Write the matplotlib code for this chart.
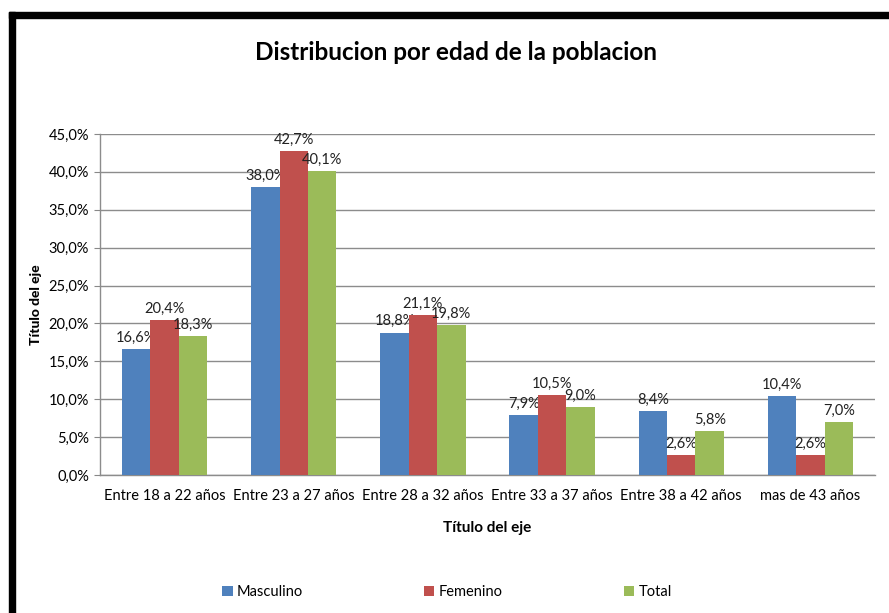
import matplotlib
matplotlib.use("Agg")
import matplotlib.pyplot as plt
import numpy as np
from matplotlib.patches import Rectangle

categories = ["Entre 18 a 22 años", "Entre 23 a 27 años", "Entre 28 a 32 años",
              "Entre 33 a 37 años", "Entre 38 a 42 años", "mas de 43 años"]
masculino = [16.6, 38.0, 18.8, 7.9, 8.4, 10.4]
femenino = [20.4, 42.7, 21.1, 10.5, 2.6, 2.6]
total = [18.3, 40.1, 19.8, 9.0, 5.8, 7.0]
series_names = ["Masculino", "Femenino", "Total"]
colors = ["#4F81BD", "#C0504D", "#9BBB59"]

plt.rcParams['font.family'] = ['Lato', 'DejaVu Sans']

fig = plt.figure(figsize=(8.89, 6.13), dpi=100)
ax = fig.add_axes([100/889, 1-475/613, 775/889, 341/613])

x = np.arange(len(categories))
w = 0.22
handles = []
for i, (vals, name, c) in enumerate(zip([masculino, femenino, total], series_names, colors)):
    b = ax.bar(x + (i-1)*w, vals, width=w, color=c, label=name, zorder=3)
    handles.append(b)
    ax.bar_label(b, labels=[f"{v:.1f}%".replace('.', ',') for v in vals],
                 padding=3, fontsize=10.5, color="#222222")

ax.set_xlim(-0.5, len(categories)-0.5)
ax.set_ylim(0, 45)
yt = np.arange(0, 46, 5)
ax.set_yticks(yt)
ax.set_yticklabels([f"{v:.1f}%".replace('.', ',') for v in yt], fontsize=10.5)
ax.set_xticks(x)
ax.set_xticklabels(categories, fontsize=10.5)
ax.tick_params(axis='x', length=0, pad=10)
ax.tick_params(axis='y', length=4, color="#888888", pad=4)
ax.grid(axis='y', color="#8c8c8c", linewidth=1, zorder=0)
for s in ["top", "right"]:
    ax.spines[s].set_visible(False)
for s in ["left", "bottom"]:
    ax.spines[s].set_color("#8c8c8c")
    ax.spines[s].set_linewidth(1)

ax.set_xlabel("Título del eje", fontsize=11, fontweight="bold", labelpad=13)
ax.set_ylabel("Título del eje", fontsize=10, fontweight="black")
ax.yaxis.set_label_coords(-(100-42)/775, 0.5)

fig.text(456/889, 1-52/613, "Distribucion por edad de la poblacion",
         ha="center", va="center", fontsize=17.5, fontweight="bold")

fig.legend(handles=handles, labels=series_names, loc="center",
           bbox_to_anchor=(447/889, 1-592/613), ncol=3, frameon=False,
           fontsize=10.5, handlelength=0.7, handleheight=0.7, handletextpad=0.3,
           columnspacing=8.3)

# black frame edges (top and left)
fig.patches.append(Rectangle((9/889, 0), 6/889, 1-12/613, transform=fig.transFigure,
                             color="black", zorder=10))
fig.patches.append(Rectangle((9/889, 1-18/613), 1, 6/613, transform=fig.transFigure,
                             color="black", zorder=10))

fig.savefig("out.png", dpi=100)
